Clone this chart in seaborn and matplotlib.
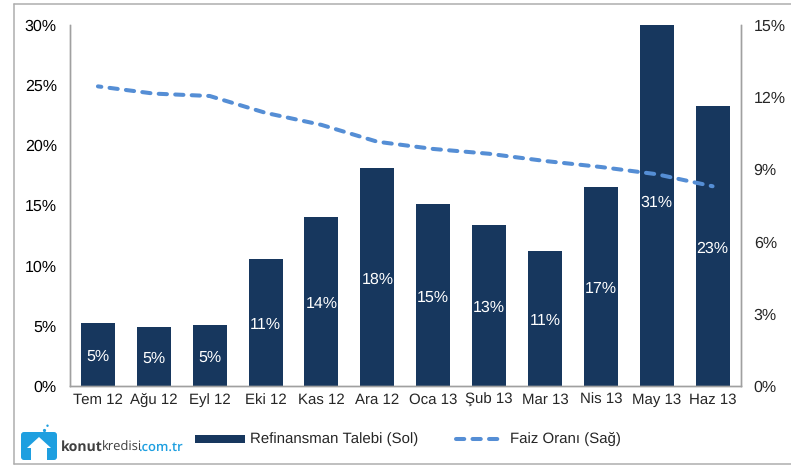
import matplotlib
matplotlib.use("Agg")
import matplotlib.pyplot as plt
import seaborn as sns
import pandas as pd
from matplotlib.lines import Line2D
from matplotlib.patches import Rectangle, Polygon, Circle, FancyBboxPatch

months = ["Tem 12","Ağu 12","Eyl 12","Eki 12","Kas 12","Ara 12","Oca 13","Şub 13","Mar 13","Nis 13","May 13","Haz 13"]
demand = [5.25,4.9,5.1,10.55,14.05,18.1,15.15,13.4,11.25,16.55,30.8,23.3]
labels = ["5%","5%","5%","11%","14%","18%","15%","13%","11%","17%","31%","23%"]
rate = [12.45,12.15,12.05,11.35,10.85,10.15,9.85,9.65,9.35,9.1,8.8,8.3]
left_ticks = [0,5,10,15,20,25,30]
right_ticks = [0,3,6,9,12,15]
legend_left = "Refinansman Talebi (Sol)"
legend_right = "Faiz Oranı (Sağ)"
NAVY = "#17375E"
BLUE = "#558ED5"
GREY = "#A0A0A0"
LOGO = "#1E9FE0"
DASH = (0,(2.05,2.05))

sns.set_style("white")
plt.rcParams["font.family"] = ["Liberation Sans", "DejaVu Sans"]
plt.rcParams["text.hinting"] = "no_hinting"
plt.rcParams["text.hinting_factor"] = 1

fig = plt.figure(figsize=(7.91,4.65), dpi=100)
W, H = 791, 465
L, R, T, B = 70, 740.5, 25, 386
def fx(x): return x/W
def fy(y): return 1-y/H

ax = fig.add_axes([fx(L), fy(B), (R-L)/W, (B-T)/H])
df = pd.DataFrame({"m": months, "v": demand})
sns.barplot(data=df, x="m", y="v", color=NAVY, saturation=1, width=0.61, linewidth=0, ax=ax)
ax.set_xlim(-0.5, 11.5)
ax.set_ylim(0, 30)
ax.set_yticks(left_ticks)
ax.set_yticklabels([f"{t}%" for t in left_ticks], fontsize=11.2, color="black")
ax.tick_params(axis="x", labelsize=11, length=0, pad=5)
ax.tick_params(axis="y", length=0, pad=9.5)
ax.set_xlabel(""); ax.set_ylabel("")
for i, (v, s) in enumerate(zip(demand, labels)):
    ax.annotate(s, (i, v/2), xytext=(0,-1.8), textcoords="offset points", color="white",
                ha="center", va="center", fontsize=11.2)

ax2 = ax.twinx()
df2 = pd.DataFrame({"x": list(range(len(months))), "r": rate})
sns.lineplot(data=df2, x="x", y="r", color=BLUE, lw=2.9, ax=ax2, errorbar=None)
ax2.lines[0].set_linestyle((1.2,(2.05,2.05)))
ax2.lines[0].set_dash_capstyle("round")
ax2.set_ylim(0, 15)
ax2.set_yticks(right_ticks)
ax2.set_yticklabels([f"{t}%" for t in right_ticks], fontsize=11.2)
ax2.tick_params(axis="y", length=0, pad=9.5, labelleft=False, labelright=True)
ax2.set_xlabel(""); ax2.set_ylabel("")
for a in (ax, ax2):
    a.spines["top"].set_visible(False)
    for s in ("left","right","bottom"):
        a.spines[s].set_color(GREY)
        a.spines[s].set_linewidth(1.0)
    a.grid(False)

# outer frame
for xs, ys in [([13.5,13.5],[4,463.5]), ([13.5,791],[4,4]), ([13.5,791],[463.5,463.5])]:
    fig.add_artist(Line2D([fx(x) for x in xs],[fy(y) for y in ys], color="#ADADAD", lw=1.1))

# legend
fig.add_artist(Rectangle((fx(195), fy(443)), 50/W, 8/H, color=NAVY, lw=0, transform=fig.transFigure))
fig.text(fx(249.5), fy(439), legend_left, fontsize=10.45, va="center")
fig.add_artist(Line2D([fx(456), fx(498)],[fy(439),fy(439)], color=BLUE, lw=2.9, linestyle=DASH, dash_capstyle="round"))
fig.text(fx(510), fy(439), legend_right, fontsize=10.9, va="center")

# logo
logo_ax = fig.add_axes([0,0,1,1], facecolor="none", zorder=5)
logo_ax.set_xlim(0,W); logo_ax.set_ylim(H,0); logo_ax.axis("off")
logo_ax.add_patch(FancyBboxPatch((24,435),30,22,boxstyle="round,pad=3,rounding_size=3",color=LOGO,lw=0))
logo_ax.add_patch(Polygon([(39,437),(51,448),(47,448),(47,460),(31,460),(31,448),(27,448)],closed=True,color="white",lw=0))
logo_ax.add_patch(Circle((44.5,430.5),1.6,color=LOGO,lw=0))
logo_ax.add_patch(Circle((47.5,425.7),1.2,color=LOGO,lw=0))
fam = ["Open Sans", "DejaVu Sans"]
fig.text(fx(60.5), fy(447), "konut", fontsize=10.4, fontweight="bold", color="#404040", va="center", family=fam)
fig.text(fx(101.5), fy(447), "kredisi", fontsize=9.6, color="#404040", va="center", family=fam)
fig.text(fx(138), fy(447), ".com.tr", fontsize=9.6, fontweight="semibold", color=LOGO, va="center", family=fam)
fig.savefig("out.png", dpi=100)
